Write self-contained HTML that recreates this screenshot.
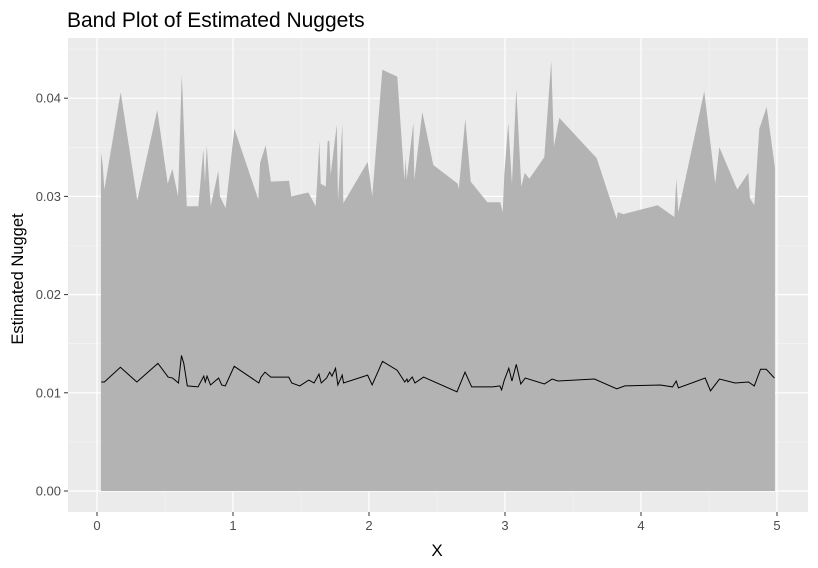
<!DOCTYPE html>
<html><head><meta charset="utf-8"><style>
body{margin:0;background:#fff;font-family:"Liberation Sans",sans-serif}
svg{display:block}
</style></head><body>
<svg id="chart" width="818" height="568" xmlns="http://www.w3.org/2000/svg">
<text x="67" y="27" font-size="21" fill="#000">Band Plot of Estimated Nuggets</text>
<rect x="68" y="38" width="740" height="474" fill="#ebebeb"/>
<g id="grid"></g>
<g id="marks"></g>
<g id="axes"></g>
<text x="437" y="556" font-size="17" text-anchor="middle" fill="#000">X</text>
<text transform="translate(23,279) rotate(-90)" font-size="16.5" text-anchor="middle" fill="#000">Estimated Nugget</text>
</svg>
<script>
const bandX=[0.029,0.042,0.054,0.174,0.296,0.443,0.520,0.554,0.596,0.623,0.630,0.660,0.745,0.782,0.794,0.807,0.836,0.892,0.904,0.946,1.010,1.186,1.199,1.240,1.279,1.412,1.429,1.554,1.608,1.618,1.635,1.645,1.682,1.696,1.708,1.718,1.763,1.772,1.804,1.811,1.990,2.024,2.098,2.208,2.252,2.260,2.270,2.277,2.326,2.333,2.392,2.473,2.652,2.660,2.708,2.748,2.870,2.965,2.983,2.995,3.024,3.051,3.083,3.120,3.145,3.179,3.289,3.340,3.360,3.399,3.674,3.821,3.829,3.870,4.123,4.245,4.260,4.274,4.465,4.546,4.576,4.708,4.789,4.801,4.833,4.870,4.924,4.985];
const bandUpper=[0.0345,0.0332,0.0307,0.0406,0.0296,0.0388,0.0313,0.0328,0.0300,0.0424,0.0402,0.0290,0.0290,0.0348,0.0314,0.0352,0.0290,0.0326,0.0300,0.0288,0.0369,0.0297,0.0334,0.0352,0.0315,0.0316,0.0300,0.0304,0.0290,0.0313,0.0356,0.0313,0.0310,0.0356,0.0357,0.0322,0.0373,0.0296,0.0374,0.0293,0.0335,0.0300,0.0429,0.0422,0.0334,0.0317,0.0339,0.0317,0.0375,0.0317,0.0386,0.0332,0.0313,0.0307,0.0379,0.0315,0.0294,0.0294,0.0284,0.0322,0.0375,0.0313,0.0409,0.0310,0.0324,0.0318,0.0340,0.0438,0.0351,0.0380,0.0339,0.0277,0.0284,0.0282,0.0291,0.0279,0.0318,0.0284,0.0407,0.0313,0.0350,0.0307,0.0324,0.0298,0.0291,0.0369,0.0391,0.0329];
const bandLower=0;
const lineX=[0.031,0.054,0.172,0.293,0.448,0.523,0.556,0.599,0.621,0.638,0.664,0.743,0.785,0.796,0.809,0.835,0.894,0.917,0.943,1.009,1.190,1.206,1.235,1.278,1.410,1.432,1.491,1.557,1.596,1.632,1.649,1.688,1.711,1.728,1.754,1.771,1.803,1.813,1.990,2.023,2.099,2.207,2.263,2.279,2.286,2.318,2.338,2.401,2.647,2.706,2.755,2.910,2.962,2.975,2.995,3.028,3.051,3.083,3.116,3.149,3.290,3.346,3.389,3.658,3.822,3.881,4.143,4.232,4.259,4.275,4.472,4.511,4.577,4.692,4.790,4.833,4.879,4.921,4.981];
const lineY=[0.0111,0.0111,0.0126,0.0111,0.0130,0.0116,0.0115,0.0110,0.0138,0.0130,0.0107,0.0106,0.0117,0.0111,0.0117,0.0108,0.0115,0.0108,0.0107,0.0127,0.0110,0.0116,0.0121,0.0116,0.0116,0.0110,0.0107,0.0113,0.0110,0.0119,0.0110,0.0115,0.0121,0.0117,0.0125,0.0108,0.0118,0.0110,0.0118,0.0108,0.0132,0.0123,0.0111,0.0114,0.0111,0.0116,0.0110,0.0116,0.0101,0.0121,0.0106,0.0106,0.0107,0.0103,0.0113,0.0125,0.0112,0.0129,0.0109,0.0115,0.0109,0.0114,0.0112,0.0114,0.0104,0.0107,0.0108,0.0106,0.0112,0.0105,0.0115,0.0102,0.0114,0.0110,0.0111,0.0107,0.0124,0.0124,0.0115];
const xTicks=[0,1,2,3,4,5];
const yTicks=[0,0.01,0.02,0.03,0.04];
const xTickLabels=["0","1","2","3","4","5"];
const yTickLabels=["0.00","0.01","0.02","0.03","0.04"];

const NS="http://www.w3.org/2000/svg";
const sx=v=>97+v*136;
const sy=v=>491-v*9820;
function mk(tag,attrs,parent){const e=document.createElementNS(NS,tag);for(const k in attrs)e.setAttribute(k,attrs[k]);parent.appendChild(e);return e;}
const grid=document.getElementById('grid'),marks=document.getElementById('marks'),axes=document.getElementById('axes');
for(let i=0;i<xTicks.length-1;i++){const x=sx((xTicks[i]+xTicks[i+1])/2);const l=mk('line',{x1:x,x2:x,y1:38,y2:512,stroke:'#f5f5f5','stroke-width':0.6},grid);

}
for(let i=0;i<yTicks.length;i++){const y=sy(yTicks[i]+0.005);const l=mk('line',{x1:68,x2:808,y1:y,y2:y,stroke:'#f5f5f5','stroke-width':0.6},grid);

}
xTicks.forEach((t,i)=>{const x=sx(t);const l=mk('line',{x1:x,x2:x,y1:38,y2:512,stroke:'#fff','stroke-width':1.2},grid);


const tk=mk('line',{x1:x,x2:x,y1:512,y2:516,stroke:'#333','stroke-width':1},axes);


const tx=mk('text',{x:x,y:530,'font-size':13,'text-anchor':'middle',fill:'#4d4d4d'},axes);tx.textContent=xTickLabels[i];

});
yTicks.forEach((t,i)=>{const y=sy(t);const l=mk('line',{x1:68,x2:808,y1:y,y2:y,stroke:'#fff','stroke-width':1.2},grid);


const tk=mk('line',{x1:64,x2:68,y1:y,y2:y,stroke:'#333','stroke-width':1},axes);


const tx=mk('text',{x:61,y:y+4.5,'font-size':13,'text-anchor':'end',fill:'#4d4d4d'},axes);tx.textContent=yTickLabels[i];

});
let d='M'+sx(bandX[0])+','+sy(bandLower);
bandX.forEach((x,i)=>{d+=' L'+sx(x)+','+sy(bandUpper[i]);});
d+=' L'+sx(bandX[bandX.length-1])+','+sy(bandLower)+' Z';
const band=mk('path',{d:d,fill:'#b3b3b3'},marks);


const pts=lineX.map((x,i)=>sx(x)+','+sy(lineY[i])).join(' ');
const pl=mk('polyline',{points:pts,fill:'none',stroke:'#000','stroke-width':1},marks);


</script>
</body></html>
